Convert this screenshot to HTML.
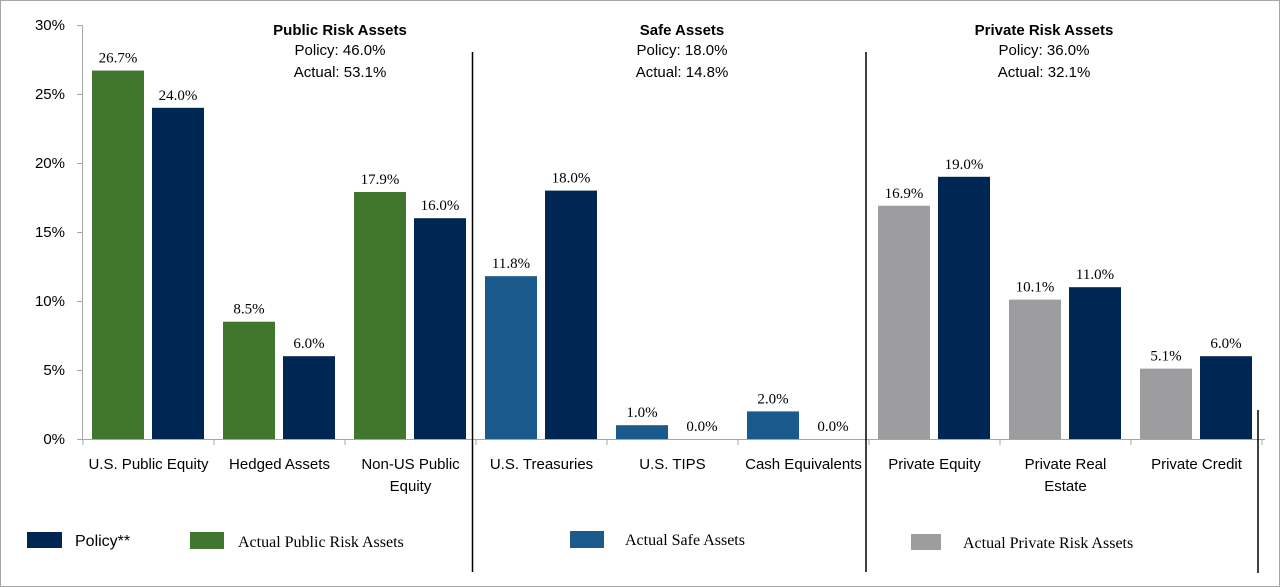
<!DOCTYPE html>
<html><head><meta charset="utf-8"><style>
html,body{margin:0;padding:0;background:#fff}
svg{display:block}
.sans{font-family:"Liberation Sans",sans-serif}
.serif{font-family:"Liberation Serif",serif}
</style></head><body>
<svg id="chart" width="1280" height="587" viewBox="0 0 1280 587" xmlns="http://www.w3.org/2000/svg">
<rect x="0.5" y="0.5" width="1279" height="586" fill="#fff" stroke="#a6a6a6"/>
<g id="axes"></g><g id="bars"></g><g id="labels"></g>
<g class="sans" font-size="15" text-anchor="middle" fill="#000">
<text x="340" y="35" font-weight="bold">Public Risk Assets</text>
<text x="340" y="55">Policy:  46.0%</text>
<text x="340" y="77">Actual:  53.1%</text>
<text x="682" y="35" font-weight="bold">Safe Assets</text>
<text x="682" y="55">Policy:  18.0%</text>
<text x="682" y="77">Actual:  14.8%</text>
<text x="1044" y="35" font-weight="bold">Private Risk Assets</text>
<text x="1044" y="55">Policy:  36.0%</text>
<text x="1044" y="77">Actual:  32.1%</text>
</g>
<g stroke="#000" stroke-width="1.5">
<line x1="472.5" y1="52" x2="472.5" y2="572"/>
<line x1="866" y1="52" x2="866" y2="572"/>
<line x1="1258" y1="410" x2="1258" y2="573"/>
</g>
<g font-size="16">
<rect x="27" y="532" width="35" height="16" fill="#002654"/>
<text x="75" y="546" class="sans">Policy**</text>
<rect x="190" y="532" width="34" height="17" fill="#41762f"/>
<text x="238" y="547" class="serif">Actual Public Risk Assets</text>
<rect x="570" y="531" width="34" height="17" fill="#1a5a8c"/>
<text x="625" y="545" class="serif">Actual Safe Assets</text>
<rect x="911" y="534" width="30" height="16" fill="#9d9d9f"/>
<text x="963" y="548" class="serif">Actual Private Risk Assets</text>
</g>
</svg>
<script>
const categories = [["U.S. Public Equity"],["Hedged Assets"],["Non-US Public","Equity"],["U.S. Treasuries"],["U.S. TIPS"],["Cash Equivalents"],["Private Equity"],["Private Real","Estate"],["Private Credit"]];
const actualValues = [26.7, 8.5, 17.9, 11.8, 1.0, 2.0, 16.9, 10.1, 5.1];
const policyValues = [24.0, 6.0, 16.0, 18.0, 0.0, 0.0, 19.0, 11.0, 6.0];
const actualColors = ["#41762f","#41762f","#41762f","#1a5a8c","#1a5a8c","#1a5a8c","#9d9d9f","#9d9d9f","#9d9d9f"];
const yTicks = [0, 5, 10, 15, 20, 25, 30];

const NS = "http://www.w3.org/2000/svg";
const x0 = 83, bandW = 131, yZero = 439, yMax = 30, yTop = 25;
const y = v => yZero - (v / yMax) * (yZero - yTop);
const bandX = i => x0 + i * bandW;
function mk(tag, attrs, parent, text) {
  const e = document.createElementNS(NS, tag);
  for (const k in attrs) e.setAttribute(k, attrs[k]);
  if (text !== undefined) e.textContent = text;
  parent.appendChild(e);
  return e;
}
const axes = document.getElementById('axes');
const bars = document.getElementById('bars');
const labels = document.getElementById('labels');

const yAxis = mk('line', {x1: x0 - 0.5, y1: y(yMax), x2: x0 - 0.5, y2: yZero, stroke: '#a6a6a6'}, axes);


const xAxis = mk('line', {x1: x0 - 6, y1: yZero + 0.5, x2: bandX(categories.length) + 3, y2: yZero + 0.5, stroke: '#a6a6a6'}, axes);



yTicks.forEach(t => {
  const tk = mk('line', {x1: x0 - 6, y1: y(t) + 0.5, x2: x0, y2: y(t) + 0.5, stroke: '#a6a6a6'}, axes);
  
  
  const lb = mk('text', {x: x0 - 18, y: y(t) + 5, 'text-anchor': 'end', 'font-size': 15, class: 'sans', fill: '#000'}, axes, t + '%');
  
  
});

for (let i = 0; i <= categories.length; i++) {
  const tk = mk('line', {x1: bandX(i), y1: yZero, x2: bandX(i), y2: yZero + 6, stroke: '#a6a6a6'}, axes);
  
  
}

categories.forEach((cat, i) => {
  const bx = bandX(i);
  const ay = y(actualValues[i]);
  const a = mk('rect', {x: bx + 9, y: ay, width: 52, height: yZero - ay, fill: actualColors[i]}, bars);
  
  
  const py = y(policyValues[i]);
  const p = mk('rect', {x: bx + 69, y: py, width: 52, height: yZero - py, fill: '#002654'}, bars);
  
  
  const av = mk('text', {x: bx + 35, y: ay - 8, 'text-anchor': 'middle', 'font-size': 15, class: 'serif'}, labels, actualValues[i].toFixed(1) + '%');
  
  
  const pv = mk('text', {x: bx + 95, y: py - 8, 'text-anchor': 'middle', 'font-size': 15, class: 'serif'}, labels, policyValues[i].toFixed(1) + '%');
  
  
  cat.forEach((line, j) => {
    const c = mk('text', {x: bx + bandW / 2, y: yZero + 30 + j * 22, 'text-anchor': 'middle', 'font-size': 15, class: 'sans'}, labels, line);
    
    
  });
});
</script>
</body></html>
